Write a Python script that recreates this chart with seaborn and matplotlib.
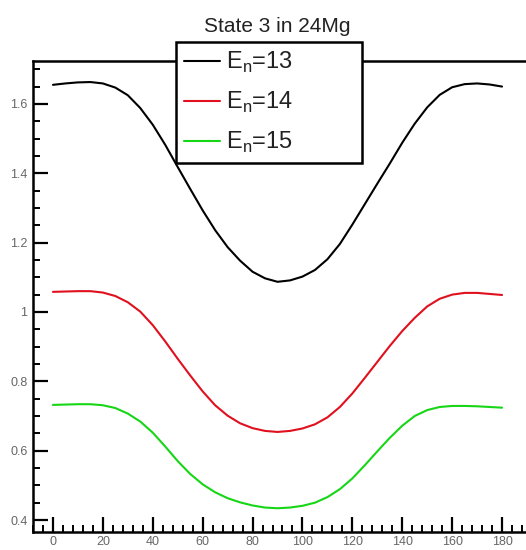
import numpy as np
import pandas as pd
import matplotlib
matplotlib.use("Agg")
import matplotlib.pyplot as plt
import seaborn as sns
from matplotlib.ticker import MultipleLocator
from matplotlib.lines import Line2D

angles = list(range(0, 181, 5))
e13 = [1.655, 1.659, 1.662, 1.663, 1.659, 1.647, 1.625, 1.588, 1.540, 1.482,
       1.418, 1.355, 1.293, 1.236, 1.187, 1.148, 1.116, 1.097, 1.087, 1.091,
       1.102, 1.121, 1.152, 1.196, 1.252, 1.311, 1.370, 1.428, 1.488, 1.543,
       1.590, 1.626, 1.648, 1.657, 1.659, 1.656, 1.650]
e14 = [1.058, 1.059, 1.060, 1.060, 1.056, 1.046, 1.028, 1.001, 0.962, 0.915,
       0.865, 0.817, 0.771, 0.731, 0.701, 0.679, 0.665, 0.657, 0.654, 0.657,
       0.664, 0.676, 0.696, 0.726, 0.765, 0.810, 0.856, 0.902, 0.945, 0.983,
       1.016, 1.038, 1.050, 1.055, 1.055, 1.052, 1.049]
e15 = [0.732, 0.733, 0.734, 0.734, 0.731, 0.723, 0.707, 0.684, 0.652, 0.612,
       0.570, 0.533, 0.503, 0.480, 0.463, 0.451, 0.442, 0.436, 0.434, 0.436,
       0.441, 0.450, 0.466, 0.489, 0.520, 0.558, 0.598, 0.637, 0.672, 0.700,
       0.717, 0.726, 0.729, 0.729, 0.728, 0.726, 0.724]
labels = [r"E$_\mathregular{n}$=13", r"E$_\mathregular{n}$=14", r"E$_\mathregular{n}$=15"]
colors = ["black", "#e0101e", "#16d616"]
title = "State 3 in 24Mg"
yticks = [0.4, 0.6, 0.8, 1.0, 1.2, 1.4, 1.6]
yticklabels = ["0.4", "0.6", "0.8", "1", "1.2", "1.4", "1.6"]

rows = []
for lab, vals in zip(labels, [e13, e14, e15]):
    for a, v in zip(angles, vals):
        rows.append({"angle": a, "value": v, "series": lab})
df = pd.DataFrame(rows)

sns.set_style("white")
plt.rcParams["font.family"] = ["Liberation Sans Narrow", "Liberation Sans", "DejaVu Sans"]
plt.rcParams["mathtext.fontset"] = "custom"
plt.rcParams["mathtext.rm"] = "Liberation Sans"

fig = plt.figure(figsize=(5.26, 5.5), dpi=100)
ax = fig.add_axes([33/526, 1-532/550, 1-33/526, (532-61)/550])

sns.lineplot(data=df, x="angle", y="value", hue="series", palette=colors,
             hue_order=labels, linewidth=1.5, ax=ax, legend=False)

ax.set_xlim(-8, 189.6)
ax.set_ylim(0.3655, 1.7237)
ax.set_xlabel("")
ax.set_ylabel("")

ax.xaxis.set_major_locator(MultipleLocator(20))
ax.xaxis.set_minor_locator(MultipleLocator(4))
ax.yaxis.set_minor_locator(MultipleLocator(0.05))
ax.set_yticks(yticks)
ax.set_yticklabels(yticklabels)

ax.tick_params(axis="both", which="both", bottom=True, left=True, top=False, right=False)
ax.tick_params(axis="both", which="major", direction="in", length=11, width=1.6,
               labelsize=9, labelcolor="#666666", color="black")
ax.tick_params(axis="both", which="minor", direction="in", length=5, width=1.4, color="black")
ax.tick_params(axis="x", which="major", pad=3)
ax.tick_params(axis="y", which="major", pad=4)

for s in ["left", "bottom", "top"]:
    ax.spines[s].set_visible(True)
    ax.spines[s].set_linewidth(1.8)
    ax.spines[s].set_color("black")
ax.spines["right"].set_visible(False)

handles = [Line2D([0], [0], color=c, lw=1.5) for c in colors]
leg = fig.legend(handles, labels, loc="upper left",
                 bbox_to_anchor=(176/526, 1-42/550, (362-176)/526, 0.0),
                 bbox_transform=fig.transFigure, mode="expand",
                 borderaxespad=0, fancybox=False, framealpha=1, edgecolor="black",
                 fontsize=17, handlelength=1.5, handletextpad=0.25,
                 labelspacing=0.62, borderpad=0.35)
leg.get_frame().set_linewidth(1.8)
for t in leg.get_texts():
    t.set_color("#222222")

fig.text(277/526, 1-27/550, title, ha="center", va="center", fontsize=15, color="#222222")

fig.savefig("out.png", dpi=100)
